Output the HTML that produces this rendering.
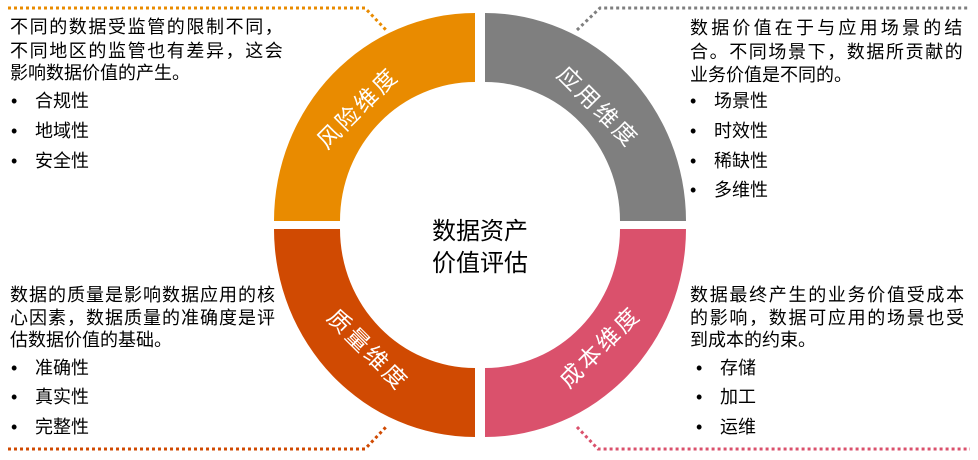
<!DOCTYPE html>
<html><head><meta charset="utf-8"><style>
body{margin:0;width:978px;height:460px;background:#fff;position:relative;overflow:hidden;font-family:"Liberation Sans","Noto Sans CJK SC",sans-serif;color:#000}
.t{position:absolute;font-size:18px;line-height:18px;white-space:nowrap}
.b{position:absolute;font-size:18px;line-height:18px;white-space:nowrap}
.b:before{content:"•";position:absolute;left:-24px}
</style></head><body>
<svg width="978" height="460" style="position:absolute;left:0;top:0">
<g stroke-width="3" stroke-dasharray="3 3" fill="none">
<path d="M8 8 H365 L386 30" stroke="#E98B00"/>
<path d="M577 30 L600 8 H970" stroke="#7F7F7F"/>
<path d="M8 449 H365 L386 427" stroke="#D04A02"/>
<path d="M577 427 L598 449 H970" stroke="#DA516C"/>
</g>
<path d="M274 221 A201 208 0 0 1 475 13 V82 A135 139 0 0 0 340 221 Z" fill="#E98B00"/>
<path d="M686 221 A201 208 0 0 0 485 13 V82 A135 139 0 0 1 620 221 Z" fill="#7F7F7F"/>
<path d="M274 229 A201 208 0 0 0 475 437 V368 A135 139 0 0 1 340 229 Z" fill="#D04A02"/>
<path d="M686 229 A201 208 0 0 1 485 437 V368 A135 139 0 0 0 620 229 Z" fill="#DA516C"/>
<g fill="#fff" font-size="23" font-family="Liberation Sans, Noto Sans CJK SC, sans-serif" text-anchor="middle" letter-spacing="3">
<text transform="translate(358,108) rotate(-45)" dy="8">风险维度</text>
<text transform="translate(598,107) rotate(45)" dy="8">应用维度</text>
<text transform="translate(368,350) rotate(45)" dy="8">质量维度</text>
<text transform="translate(600,347) rotate(-45)" dy="8">成本维度</text>
</g>
<g font-size="24" font-family="Liberation Sans, Noto Sans CJK SC, sans-serif" text-anchor="middle">
<text x="480" y="239">数据资产</text>
<text x="480" y="271">价值评估</text>
</g>
</svg>
<div class="t" style="left:10px;top:18px;letter-spacing:1.6px">不同的数据受监管的限制不同，</div>
<div class="t" style="left:10px;top:42px;letter-spacing:1.6px">不同地区的监管也有差异，这会</div>
<div class="t" style="left:10px;top:64px">影响数据价值的产生。</div>
<div class="b" style="left:35px;top:92px">合规性</div>
<div class="b" style="left:35px;top:122px">地域性</div>
<div class="b" style="left:35px;top:152px">安全性</div>

<div class="t" style="left:690px;top:19px;letter-spacing:3.2px">数据价值在于与应用场景的结</div>
<div class="t" style="left:690px;top:43px;letter-spacing:1.6px">合。不同场景下，数据所贡献的</div>
<div class="t" style="left:690px;top:66px">业务价值是不同的。</div>
<div class="b" style="left:714px;top:92px">场景性</div>
<div class="b" style="left:714px;top:122px">时效性</div>
<div class="b" style="left:714px;top:152px">稀缺性</div>
<div class="b" style="left:714px;top:181px">多维性</div>

<div class="t" style="left:10px;top:286px;letter-spacing:1px">数据的质量是影响数据应用的核</div>
<div class="t" style="left:10px;top:309px;letter-spacing:1px">心因素，数据质量的准确度是评</div>
<div class="t" style="left:10px;top:331px">估数据价值的基础。</div>
<div class="b" style="left:35px;top:359px">准确性</div>
<div class="b" style="left:35px;top:388px">真实性</div>
<div class="b" style="left:35px;top:418px">完整性</div>

<div class="t" style="left:690px;top:286px;letter-spacing:1.7px">数据最终产生的业务价值受成本</div>
<div class="t" style="left:690px;top:309px;letter-spacing:1.7px">的影响，数据可应用的场景也受</div>
<div class="t" style="left:690px;top:331px">到成本的约束。</div>
<div class="b" style="left:720px;top:359px">存储</div>
<div class="b" style="left:720px;top:388px">加工</div>
<div class="b" style="left:720px;top:418px">运维</div>
</body></html>
